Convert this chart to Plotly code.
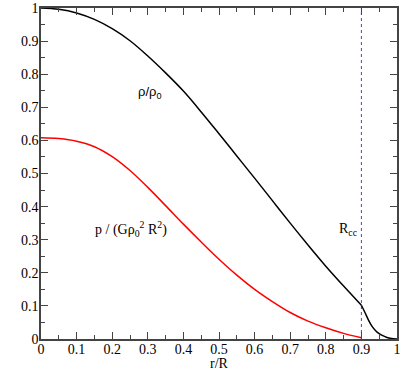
import plotly.graph_objects as go

r_rho = [0, 0.05, 0.1, 0.15, 0.2, 0.25, 0.3, 0.35, 0.4, 0.45, 0.5, 0.55, 0.6, 0.65, 0.7,
         0.75, 0.8, 0.85, 0.9, 0.91, 0.92, 0.93, 0.94, 0.95, 0.96, 0.97, 0.98, 0.99, 1.0]
rho = [1.0, 0.996, 0.985, 0.9655, 0.9375, 0.901, 0.855, 0.804, 0.749, 0.686, 0.620, 0.553,
       0.486, 0.418, 0.350, 0.284, 0.220, 0.160, 0.102, 0.080, 0.057, 0.038, 0.025, 0.016,
       0.010, 0.0055, 0.0025, 0.0007, 0.0]

r_p = [0, 0.05, 0.1, 0.15, 0.2, 0.25, 0.3, 0.35, 0.4, 0.45, 0.5, 0.55, 0.6, 0.65, 0.7,
       0.75, 0.8, 0.85, 0.9]
p = [0.608, 0.6055, 0.5975, 0.581, 0.551, 0.509, 0.458, 0.403, 0.347, 0.293, 0.241, 0.193,
     0.150, 0.113, 0.080, 0.054, 0.034, 0.017, 0.004]

r_cc = 0.9

serif = "Liberation Serif"
sans = "Liberation Sans"

k = r_rho.index(r_cc)

fig = go.Figure()
fig.add_trace(go.Scatter(x=[r_cc, r_cc], y=[0, 1], mode="lines",
                         line=dict(color="#4040ff", width=1, dash="dot"), showlegend=False))
fig.add_trace(go.Scatter(x=r_p, y=p, mode="lines", line=dict(color="#ff0000", width=1.5),
                         line_shape="spline", showlegend=False))
fig.add_trace(go.Scatter(x=r_rho[:k + 1], y=rho[:k + 1], mode="lines",
                         line=dict(color="#000000", width=1.5), line_shape="spline",
                         showlegend=False))
fig.add_trace(go.Scatter(x=r_rho[k:], y=rho[k:], mode="lines",
                         line=dict(color="#000000", width=1.5), line_shape="spline",
                         showlegend=False))

fig.add_annotation(x=0.306, y=0.746, text="ρ/ρ<sub>0</sub>", showarrow=False,
                   font=dict(family=sans, size=13, color="black"))
fig.add_annotation(x=0.253, y=0.332, text="p / (Gρ<sub>0</sub><sup>2</sup> R<sup>2</sup>)",
                   showarrow=False, font=dict(family=serif, size=14, color="black"))
fig.add_annotation(x=0.863, y=0.332, text="R<sub>cc</sub>", showarrow=False,
                   font=dict(family=serif, size=14, color="black"))
fig.add_annotation(x=0.5, xref="paper", y=-0.073, yref="paper", yanchor="middle",
                   text="r/R", showarrow=False, font=dict(family=serif, size=14, color="black"))

axis_common = dict(range=[0, 1], dtick=0.1, tick0=0, ticks="inside", ticklen=7, tickwidth=1.2,
                   tickcolor="#444", showline=True, linecolor="#444", linewidth=1.5,
                   mirror="ticks", showgrid=False, zeroline=False, automargin=False,
                   tickformat="~g",
                   tickfont=dict(family=serif, size=14, color="black"),
                   minor=dict(dtick=0.05, ticks="inside", ticklen=4, tickwidth=1, tickcolor="#444"))

fig.update_xaxes(**axis_common, ticklabelstandoff=-4)
fig.update_yaxes(**axis_common, ticklabelstandoff=-2)

fig.update_layout(width=407, height=382, margin=dict(l=41, r=10, t=8, b=43, autoexpand=False),
                  plot_bgcolor="white", paper_bgcolor="white")

fig.write_html("out.html", config={"displayModeBar": False},
               post_script="document.body.style.margin='0';document.body.style.padding='0';")
